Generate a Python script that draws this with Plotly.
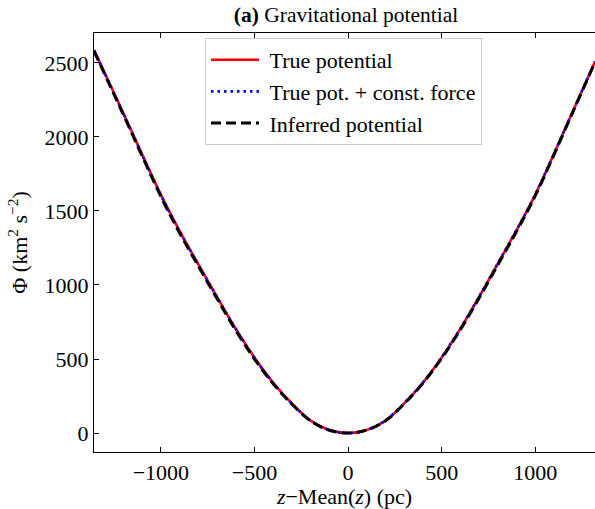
import plotly.graph_objects as go

z_pc = [-1357, -1200, -1000, -900, -800, -700, -600, -500, -400, -300, -200, -100, 0,
        100, 200, 300, 400, 500, 600, 700, 800, 900, 1000, 1200, 1319]
phi_true = [2587, 2160, 1610, 1365, 1140, 920, 705, 510, 340, 200, 84, 20, 0,
            20, 84, 200, 340, 510, 705, 920, 1145, 1370, 1610, 2170, 2507]
phi_const = [2585, 2158, 1608, 1363, 1138, 918, 703, 508, 338, 198, 83, 20, 0,
             21, 85, 202, 342, 512, 707, 922, 1147, 1372, 1612, 2172, 2509]
phi_inferred = [2580, 2150, 1598, 1352, 1128, 908, 694, 500, 333, 195, 82, 19, 0,
                20, 83, 198, 337, 505, 698, 912, 1136, 1362, 1603, 2166, 2505]

x_ticks = [-1000, -500, 0, 500, 1000]
x_ticklabels = ["\u22121000", "\u2212500", "0", "500", "1000"]
y_ticks = [0, 500, 1000, 1500, 2000, 2500]

FONT = "Liberation Serif, Times New Roman, serif"
SP = "\u00a0"

fig = go.Figure()
fig.add_trace(go.Scatter(x=z_pc, y=phi_true, mode="lines", name=SP + "True potential",
                         line=dict(color="#ff0000", width=2.6, shape="spline")))
fig.add_trace(go.Scatter(x=z_pc, y=phi_const, mode="lines", name=SP + "True pot. + const. force",
                         line=dict(color="#0000ff", width=2.6, dash="2.5px,4px", shape="spline")))
fig.add_trace(go.Scatter(x=z_pc, y=phi_inferred, mode="lines", name=SP + "Inferred potential",
                         line=dict(color="#000000", width=3, dash="10px,5px", shape="spline")))

fig.update_layout(
    width=595, height=509,
    margin=dict(l=94, r=0, t=33, b=55),
    paper_bgcolor="white", plot_bgcolor="white",
    font=dict(family=FONT, size=22, color="black"),
    showlegend=True,
    title=dict(text="<b>(a)</b> Gravitational potential", x=346 / 595, xanchor="center",
               y=1 - 14 / 509, yanchor="middle", font=dict(size=21.5, family=FONT)),
    legend=dict(x=(205 - 94) / (595 - 94), y=1 - (38 - 33) / (454 - 33),
                xanchor="left", yanchor="top",
                bgcolor="rgba(255,255,255,0.8)", bordercolor="#cccccc", borderwidth=1,
                font=dict(size=22, family=FONT), itemwidth=48, tracegroupgap=0),
    xaxis=dict(range=[-1357, 1319], tickvals=x_ticks, ticktext=x_ticklabels,
               ticks="inside", ticklen=5, tickwidth=1, tickcolor="black",
               showline=True, linecolor="black", linewidth=1.2, mirror="ticks",
               showgrid=False, zeroline=False, tickfont=dict(size=22),
               title=dict(text="<i>z</i>\u2212Mean(<i>z</i>) (pc)", standoff=9,
                          font=dict(size=22, family=FONT))),
    yaxis=dict(range=[-128, 2702], tickvals=y_ticks,
               ticks="inside", ticklen=5, tickwidth=1, tickcolor="black",
               showline=True, linecolor="black", linewidth=1.2, mirror=False,
               showgrid=False, zeroline=False, tickfont=dict(size=22),
               title=dict(text="\u03a6 (km<sup>2</sup> s<sup>\u22122</sup>)", standoff=10,
                          font=dict(size=22, family=FONT))),
)

fig.write_html("out.html")
